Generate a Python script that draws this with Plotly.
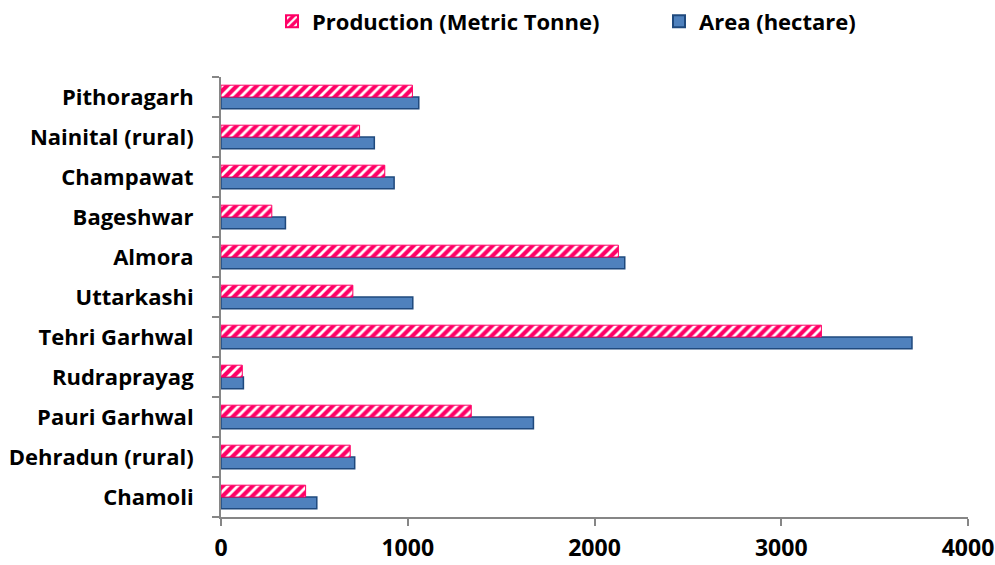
import plotly.graph_objects as go

# Districts listed bottom-to-top as they appear on the axis
districts = [
    "Chamoli", "Dehradun (rural)", "Pauri Garhwal", "Rudraprayag",
    "Tehri Garhwal", "Uttarkashi", "Almora", "Bageshwar",
    "Champawat", "Nainital (rural)", "Pithoragarh",
]
production_mt = [453, 692, 1340, 114, 3215, 706, 2128, 272, 877, 742, 1025]
area_ha = [513, 716, 1673, 120, 3700, 1027, 2162, 345, 927, 821, 1059]

x_ticks = [0, 1000, 2000, 3000, 4000]

FONT = "Open Sans"
AXIS_GREY = "#868686"

fig = go.Figure()

# Area is added first so it sits below Production within each group
fig.add_trace(go.Bar(
    y=districts, x=area_ha, orientation="h",
    name="Area (hectare)",
    marker=dict(color="#4F81BD", line=dict(color="#1F497D", width=1.5)),
    legendrank=2,
))
fig.add_trace(go.Bar(
    y=districts, x=production_mt, orientation="h",
    name="Production (Metric Tonne)",
    marker=dict(
        color="#FF0066",
        line=dict(color="#FF0066", width=1),
        pattern=dict(shape="/", bgcolor="#FF0066", fgcolor="white",
                     size=7, solidity=0.4, fillmode="replace"),
    ),
    legendrank=1,
    legendwidth=342,
))

fig.update_layout(
    width=995, height=565,
    margin=dict(l=221, r=27, t=77, b=48, autoexpand=False),
    paper_bgcolor="white", plot_bgcolor="white",
    barmode="group", bargap=0.41, bargroupgap=0,
    font=dict(family=FONT, size=19, color="black"),
    showlegend=True,
    legend=dict(
        orientation="h", xref="container", x=272 / 995, xanchor="left",
        y=0.962, yanchor="middle", yref="container", traceorder="normal",
        font=dict(family=FONT, size=22, color="black", weight="bold"),
        itemsizing="constant",
    ),
    xaxis=dict(
        range=[0, 4000], tickvals=x_ticks, ticktext=[str(v) for v in x_ticks],
        showgrid=False, zeroline=False, automargin=False,
        showline=True, linecolor=AXIS_GREY, linewidth=2,
        ticks="outside", ticklen=7, tickcolor=AXIS_GREY, tickwidth=2,
        tickfont=dict(family=FONT, size=23, weight="bold"),
        ticklabelstandoff=2,
    ),
    yaxis=dict(
        categoryorder="array", categoryarray=districts,
        showgrid=False, zeroline=False, automargin=False,
        showline=True, linecolor=AXIS_GREY, linewidth=2,
        ticks="outside", ticklen=7, tickcolor=AXIS_GREY, tickwidth=2,
        tickson="boundaries",
        tickfont=dict(family=FONT, size=22, weight="bold"),
        ticklabelstandoff=21,
    ),
)

fig.write_html("out.html")
